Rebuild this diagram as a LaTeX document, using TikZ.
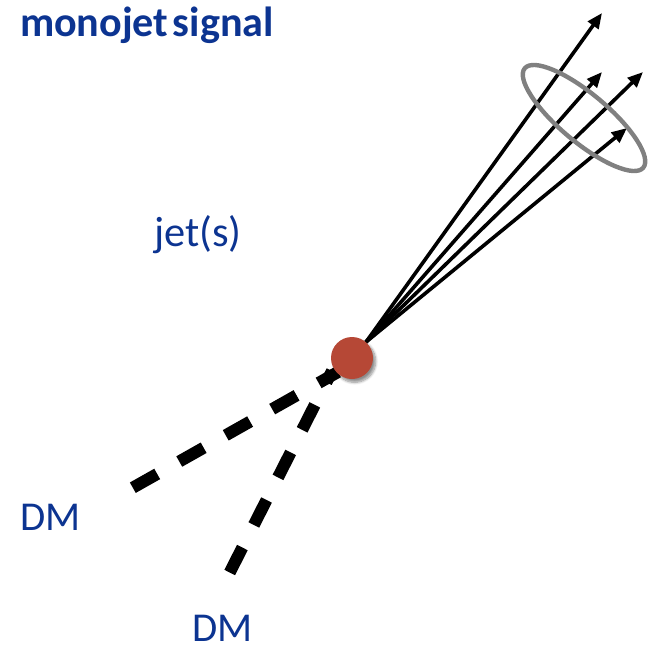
\documentclass[tikz,border=0pt]{standalone}
\usepackage{fontspec}
\setmainfont{Carlito}
\usetikzlibrary{arrows.meta,shadows.blur}
\definecolor{txtblue}{RGB}{12,52,145}
\definecolor{blobred}{RGB}{182,72,54}
\definecolor{ringgray}{RGB}{128,128,128}
\tikzset{
  lbl/.style={anchor=base west,inner sep=0pt,outer sep=0pt,text depth=0pt,text=txtblue,font=\fontsize{30.75pt}{36pt}\selectfont},
  title/.style={lbl,font=\fontsize{31.6pt}{36pt}\selectfont\bfseries},
  jetline/.style={line width=2.7pt,-{Triangle[length=11.5pt,width=9.5pt]}},
  dmline/.style={line width=9pt,dash pattern=on 21pt off 19pt},
  ring/.style={draw=ringgray,line width=3.3pt},
  blob/.style={circle,fill=blobred,minimum size=31.5pt,inner sep=0pt,outer sep=0pt,
    blur shadow={shadow xshift=2pt,shadow yshift=-2.5pt,shadow blur steps=8,shadow opacity=45}}
}
\begin{document}
\begin{tikzpicture}[x=0.75pt,y=-0.75pt]
\useasboundingbox (0,0) rectangle (648,649);
% labels
\node[title] (ttl) at (20,37) {monojet\hspace{-0.12em} signal};
\node[lbl,font=\fontsize{31.8pt}{36pt}\selectfont] (jets) at (154,246) {jet(s)};
\node[lbl] (dm1) at (20,530) {DM};
\node[lbl] (dm2) at (192,641) {DM};
% dashed DM lines
\coordinate (e1) at (132.8,487.7);
\coordinate (e2) at (229.7,572.5);
\coordinate (v1) at (338,372);
\coordinate (v2) at (332,371);
\draw[dmline] (e1) -- (v1);
\draw[dmline] (e2) -- (v2);
% jet arrows
\coordinate (o) at (366,342);
\coordinate (t1) at (602,13);
\coordinate (t2) at (602,72);
\coordinate (t3) at (643,72);
\coordinate (t4) at (627,128);
\draw[jetline] (o) -- (t1);
\draw[jetline] (o) -- (t2);
\draw[jetline] (o) -- (t3);
\draw[jetline] (o) -- (t4);
% cone ring
\coordinate (rc) at (584,118);
\draw[ring,shift={(rc)},rotate=-40] (0,0) ellipse [x radius=58pt,y radius=18pt];
% interaction blob
\node[blob] (b) at (352,358) {};
\end{tikzpicture}
\end{document}
